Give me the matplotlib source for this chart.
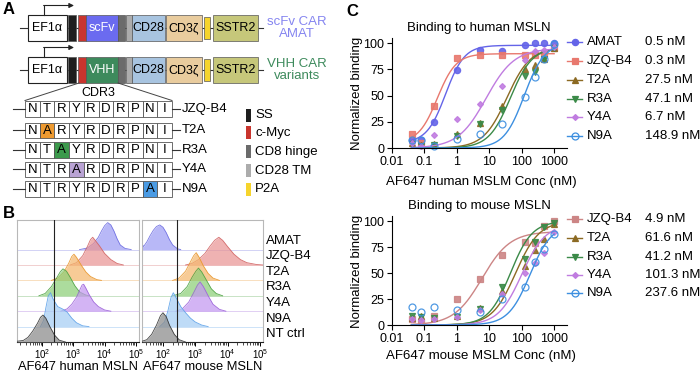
import numpy as np
import matplotlib
matplotlib.use('Agg')
import matplotlib.pyplot as plt
from matplotlib.patches import Rectangle
from matplotlib.ticker import FixedLocator, NullFormatter, LogLocator

plt.rcParams['font.family'] = ['Liberation Sans', 'DejaVu Sans']
plt.rcParams['mathtext.fontset'] = 'custom'
plt.rcParams['mathtext.rm'] = 'Liberation Sans'
plt.rcParams['mathtext.default'] = 'regular'

# ---------------- data ----------------
# Panel A
construct_binders = ['scFv', 'VHH']
construct_binder_colors = ['#6b6bf0', '#3d8a5c']
construct_titles = [('scFv CAR', 'AMAT'), ('VHH CAR', 'variants')]
construct_title_colors = ['#8585f0', '#3d8a5c']
cdr3_names = ['JZQ-B4', 'T2A', 'R3A', 'Y4A', 'N9A']
cdr3_seqs = ['NTRYRDRPNI', 'NARYRDRPNI', 'NTAYRDRPNI', 'NTRARDRPNI', 'NTRYRDRPAI']
cdr3_mut_pos = [None, 1, 2, 3, 8]
cdr3_mut_colors = [None, '#ee9a30', '#3c9a4c', '#b9a3d4', '#4a9be4']
legend_a_names = ['SS', 'c-Myc', 'CD8 hinge', 'CD28 TM', 'P2A']
legend_a_colors = ['#1e1e1e', '#c9352e', '#6b6b6b', '#acacac', '#f6d42c']

# Panel B (log10 fluorescence, relative height in row units)
hist_samples = ['AMAT', 'JZQ-B4', 'T2A', 'R3A', 'Y4A', 'N9A', 'NT ctrl']
hist_fill = ['#9d9df5', '#e99494', '#f5b86e', '#8ccf78', '#c398f0', '#a6cdf5', '#8a8a8a']
hist_edge = ['#6a6ae0', '#d06060', '#e8952a', '#4aa040', '#9a60d8', '#5aa0e8', '#303030']

human_logx = [
    [3.2, 3.45, 3.65, 3.8, 3.9, 4.0, 4.1, 4.2, 4.3, 4.4, 4.5, 4.65, 4.85],
    [2.9, 3.1, 3.3, 3.45, 3.55, 3.62, 3.7, 3.85, 4.0, 4.2, 4.4, 4.6],
    [2.3, 2.5, 2.7, 2.85, 2.95, 3.02, 3.1, 3.25, 3.4, 3.55, 3.75, 3.9],
    [1.9, 2.1, 2.3, 2.45, 2.58, 2.67, 2.78, 2.9, 3.05, 3.2, 3.4, 3.5],
    [2.6, 2.8, 2.95, 3.1, 3.2, 3.28, 3.33, 3.4, 3.5, 3.65, 3.8, 4.0, 4.2],
    [1.95, 2.05, 2.12, 2.2, 2.27, 2.35, 2.5, 2.65, 2.8, 2.95, 3.1, 3.3, 3.5],
    [1.2, 1.4, 1.55, 1.7, 1.85, 1.95, 2.03, 2.12, 2.25, 2.4, 2.55, 2.75],
]
human_h = [
    [0, 0.1, 0.4, 0.8, 1.2, 1.55, 1.75, 1.6, 1.2, 0.7, 0.3, 0.08, 0],
    [0, 0.15, 0.6, 1.2, 1.65, 1.8, 1.6, 1.2, 0.75, 0.35, 0.1, 0],
    [0, 0.15, 0.55, 1.1, 1.55, 1.7, 1.5, 1.0, 0.55, 0.25, 0.05, 0],
    [0, 0.15, 0.6, 1.1, 1.55, 1.75, 1.6, 1.2, 0.65, 0.25, 0.05, 0],
    [0, 0.15, 0.45, 0.9, 1.35, 1.7, 1.75, 1.5, 1.1, 0.6, 0.3, 0.08, 0],
    [0, 0.4, 1.2, 2.0, 2.2, 1.8, 1.3, 1.15, 0.95, 0.55, 0.25, 0.05, 0],
    [0.05, 0.1, 0.3, 0.7, 1.2, 1.6, 1.75, 1.55, 1.0, 0.45, 0.12, 0],
]
mouse_logx = [
    [1.35, 1.4, 1.5, 1.6, 1.7, 1.8, 1.9, 2.0, 2.1, 2.2, 2.3, 2.45, 2.55],
    [2.7, 2.9, 3.1, 3.3, 3.45, 3.6, 3.73, 3.85, 4.0, 4.2, 4.4, 4.6, 4.9, 5.1],
    [2.3, 2.5, 2.7, 2.85, 2.95, 3.03, 3.12, 3.25, 3.4, 3.55, 3.75],
    [2.3, 2.55, 2.75, 2.9, 3.02, 3.1, 3.2, 3.35, 3.5, 3.65, 3.85],
    [2.4, 2.6, 2.8, 2.95, 3.07, 3.15, 3.25, 3.4, 3.55, 3.75, 3.95],
    [1.9, 2.05, 2.15, 2.25, 2.32, 2.4, 2.55, 2.7, 2.85, 3.0, 3.2, 3.4],
    [1.35, 1.5, 1.65, 1.8, 1.92, 2.0, 2.1, 2.2, 2.35, 2.5, 2.7],
]
mouse_h = [
    [0.35, 0.2, 0.5, 0.9, 1.25, 1.5, 1.6, 1.45, 1.1, 0.65, 0.3, 0.05, 0],
    [0, 0.1, 0.35, 0.75, 1.2, 1.6, 1.8, 1.6, 1.2, 0.7, 0.35, 0.15, 0.03, 0],
    [0, 0.15, 0.6, 1.2, 1.6, 1.8, 1.5, 0.95, 0.45, 0.15, 0],
    [0, 0.15, 0.6, 1.2, 1.6, 1.8, 1.55, 1.0, 0.45, 0.15, 0],
    [0, 0.15, 0.6, 1.2, 1.7, 1.9, 1.6, 1.0, 0.45, 0.12, 0],
    [0, 0.3, 1.0, 1.9, 2.2, 1.9, 1.3, 0.9, 0.55, 0.3, 0.1, 0],
    [0.05, 0.15, 0.5, 1.1, 1.7, 1.9, 1.65, 1.1, 0.5, 0.15, 0],
]
gate_human = 240
gate_mouse = 280

# Panel C
conc = [0.04, 0.08, 0.2, 1, 5, 25, 125, 250, 500, 1000]
human_names = ['AMAT', 'JZQ-B4', 'T2A', 'R3A', 'Y4A', 'N9A']
human_kd = ['0.5 nM', '0.3 nM', '27.5 nM', '47.1 nM', '6.7 nM', '148.9 nM']
human_amat = [8, 8, 25, 74, 94, 93, 98, 100, 100, 100]
human_jzq = [13, 5, 40, 86, 89, 89, 89, 89, 90, 95]
human_t2a = [5, 3, 4, 13, 24, 40, 75, 79, 85, 95]
human_r3a = [4, 2, 3, 11, 23, 36, 69, 73, 85, 95]
human_y4a = [5, 2, 12, 28, 42, 59, 84, 93, 94, 96]
human_n9a = [8, 8, 2, 9, 13, 23, 49, 68, 85, 99]
human_ec50 = [0.45, 0.25, 35, 45, 8, 120]
human_hill = [1.5, 1.5, 1.2, 1.3, 1.0, 1.4]
human_top = [98, 90, 96, 96, 95, 100]
human_bottom = [5, 5, 0, 0, 0, 0]

mouse_names = ['JZQ-B4', 'T2A', 'R3A', 'Y4A', 'N9A']
mouse_kd = ['4.9 nM', '61.6 nM', '41.2 nM', '101.3 nM', '237.6 nM']
mouse_jzq = [6, 3, 9, 25, 44, 67, 80, 79, 95, 100]
mouse_t2a = [7, 9, 7, 9, 16, 33, 57, 72, 83, 97]
mouse_r3a = [9, 8, 7, 8, 15, 37, 64, 80, 94, 98]
mouse_y4a = [6, 5, 6, 8, 14, 30, 50, 60, 69, 90]
mouse_n9a = [17, 13, 17, 14, 13, 25, 37, 61, 73, 88]
mouse_ec50 = [6, 65, 45, 100, 180]
mouse_hill = [1.0, 1.2, 1.3, 1.2, 1.3]
mouse_top = [90, 100, 100, 97, 97]
mouse_bottom = [0, 0, 0, 0, 0]

c_colors = {'AMAT': '#6464e8', 'JZQ-B4': '#e8786e', 'T2A': '#8c6a23',
            'R3A': '#3b8a48', 'Y4A': '#c07ce0', 'N9A': '#3d8fe0'}
c_markers = {'AMAT': ('o', 4.5, True), 'JZQ-B4': ('s', 4.5, True), 'T2A': ('^', 4.5, True),
             'R3A': ('v', 4.5, True), 'Y4A': ('D', 3.0, True), 'N9A': ('o', 5.0, False)}

# ---------------- figure ----------------
W, H = 700, 373
fig = plt.figure(figsize=(7, 3.73), dpi=100)
bg = fig.add_axes([0, 0, 1, 1], zorder=0)
bg.set_xlim(0, W); bg.set_ylim(H, 0); bg.axis('off')


def fbox(x0, y0, x1, y1):
    return [x0 / W, 1 - y1 / H, (x1 - x0) / W, (y1 - y0) / H]


# Panel labels
for lab, (x, y) in zip('ABC', [(3, 10), (3, 213), (346, 12)]):
    bg.text(x, y, lab, fontsize=12, fontweight='bold', va='center', ha='left')

# ---- Panel A constructs ----
seg_x = [(68, 76), (78, 86), (86, 118), (118, 125), (126, 132), (132, 165), (166, 202), (204, 210), (213, 258)]
for r, ytop in enumerate([15, 57]):
    h = 26
    yc = ytop + h / 2
    bg.plot([20, 263], [yc, yc], color='#333', lw=0.8, zorder=1)
    bg.add_patch(Rectangle((28, ytop), 39, h, fc='white', ec='#222', lw=0.8, zorder=2))
    bg.text(47.5, yc, 'EF1α', fontsize=9, ha='center', va='center', zorder=3)
    bg.plot([44, 44], [ytop, ytop - 9.5], color='#222', lw=0.8, zorder=2)
    bg.annotate('', xy=(74, ytop - 9.5), xytext=(43.6, ytop - 9.5),
                arrowprops=dict(arrowstyle='-|>', lw=0.8, color='#222', mutation_scale=7,
                                shrinkA=0, shrinkB=0), zorder=2)
    colors = [legend_a_colors[0], legend_a_colors[1], construct_binder_colors[r],
              legend_a_colors[2], legend_a_colors[3], '#a8c4e0', '#e9cc9e', legend_a_colors[4], '#c6c77a']
    for i, ((x0, x1), c) in enumerate(zip(seg_x, colors)):
        yy, hh = (ytop + 2, h - 4) if i == 7 else (ytop, h)
        bg.add_patch(Rectangle((x0, yy), x1 - x0, hh, fc=c, ec='#555', lw=0.5, zorder=2))
    bg.text(102, yc, construct_binders[r], color='white', fontsize=9, ha='center', va='center', zorder=3)
    bg.text(148.5, yc, 'CD28', fontsize=9, ha='center', va='center', zorder=3)
    bg.text(184, yc, 'CD3ζ', fontsize=9, ha='center', va='center', zorder=3)
    bg.text(235.5, yc, 'SSTR2', fontsize=9, ha='center', va='center', zorder=3)
    t1, t2 = construct_titles[r]
    bg.text(297, yc - 6, t1, color=construct_title_colors[r], fontsize=9.5, ha='center', va='center')
    bg.text(297, yc + 6, t2, color=construct_title_colors[r], fontsize=9.5, ha='center', va='center')

# trapezoid to CDR3
bg.plot([79, 25], [83, 100.5], color='#444', lw=0.7)
bg.plot([118, 172], [83, 100.5], color='#444', lw=0.7)
bg.text(98, 92.5, 'CDR3', fontsize=9, ha='center', va='center')

cell_w = 14.7
for k, (name, seq, mp, mc) in enumerate(zip(cdr3_names, cdr3_seqs, cdr3_mut_pos, cdr3_mut_colors)):
    ytop = [101, 122.5, 142, 161.5, 181][k]
    hh = 15.5
    yc = ytop + hh / 2
    bg.plot([13, 25], [yc, yc], color='#333', lw=0.8)
    bg.plot([172, 180], [yc, yc], color='#333', lw=0.8)
    for j, ch in enumerate(seq):
        fc = mc if (mp is not None and j == mp) else 'white'
        bg.add_patch(Rectangle((25 + j * cell_w, ytop), cell_w, hh, fc=fc, ec='#555', lw=0.6))
        bg.text(25 + (j + 0.5) * cell_w, yc + 0.5, ch, fontsize=9.5, ha='center', va='center')
    bg.text(182, yc, name, fontsize=9.5, ha='left', va='center')

for name, c, yc in zip(legend_a_names, legend_a_colors, [115, 132.5, 151.5, 170.5, 189]):
    bg.add_patch(Rectangle((246, yc - 6.5), 5, 13, fc=c, ec='none'))
    bg.text(255, yc + 0.5, name, fontsize=9.5, ha='left', va='center')

# ---- Panel B ----
def hist_panel(box, lx_all, h_all, gate, xmin):
    ax = fig.add_axes(fbox(*box), zorder=2)
    ax.set_xscale('log')
    ax.set_xlim(10 ** xmin, 10 ** 5.1)
    ax.set_ylim(0, 7.92)
    n = len(hist_samples)
    for i in range(n):
        base = n - 1 - i
        ax.axhline(base, color=hist_edge[i], lw=0.6, alpha=0.35, zorder=1)
    for i in range(n):
        base = n - 1 - i
        x = 10 ** np.array(lx_all[i])
        y = base + np.array(h_all[i])
        ax.fill_between(x, base, y, color=hist_fill[i], alpha=0.72, lw=0, zorder=2 + i)
        ax.plot(x, y, color=hist_edge[i], lw=0.6, alpha=0.9, zorder=2 + i)
    ax.axvline(gate, color='#222', lw=0.8, zorder=20)
    for s in ['top', 'left', 'right']:
        ax.spines[s].set_color('#b8b8b8'); ax.spines[s].set_linewidth(0.8)
    ax.spines['bottom'].set_color('#222'); ax.spines['bottom'].set_linewidth(0.8)
    ax.set_yticks([])
    ax.xaxis.set_major_locator(FixedLocator([1e2, 1e3, 1e4, 1e5]))
    ax.xaxis.set_minor_locator(LogLocator(base=10, subs=np.arange(2, 10)))
    ax.xaxis.set_minor_formatter(NullFormatter())
    ax.set_xticklabels(['$10^{2}$', '$10^{3}$', '$10^{4}$', '$10^{5}$'])
    ax.tick_params(axis='x', which='major', length=3, width=0.7, labelsize=7, pad=0.8)
    ax.tick_params(axis='x', which='minor', length=1.8, width=0.5)
    return ax

hist_panel((17, 220, 139, 342), human_logx, human_h, gate_human, 1.2)
hist_panel((142, 220, 263, 342), mouse_logx, mouse_h, gate_mouse, 1.35)
bg.text(78, 366.5, 'AF647 human MSLN', fontsize=9.3, ha='center', va='center')
bg.text(203, 366.5, 'AF647 mouse MSLN', fontsize=9.3, ha='center', va='center')
for i, name in enumerate(hist_samples):
    bg.text(266, 241 + i * 15.5, name, fontsize=9.5, ha='left', va='center')

# ---- Panel C ----
def hill(x, ec50, n, top, bottom):
    return bottom + (top - bottom) / (1 + (ec50 / x) ** n)

def binding_panel(box, names, vals, ec50s, hills, tops, bottoms, colors):
    ax = fig.add_axes(fbox(*box), zorder=2)
    ax.patch.set_alpha(0)
    ax.set_xscale('log')
    ax.set_xlim(0.01, 2500)
    ax.set_ylim(0, 105)
    xf = np.logspace(np.log10(conc[0]), np.log10(conc[-1]), 200)
    for name, v, e, n, t, b in zip(names, vals, ec50s, hills, tops, bottoms):
        c = colors[name]
        ax.plot(xf, hill(xf, e, n, t, b), color=c, lw=1.0, clip_on=False)
        m, ms, filled = c_markers[name]
        ax.plot(conc, v, ls='none', marker=m, ms=ms, mec=c, mfc=c if filled else 'none',
                mew=0.9, alpha=0.9, clip_on=False)
    for s in ['top', 'right']:
        ax.spines[s].set_visible(False)
    for s in ['left', 'bottom']:
        ax.spines[s].set_linewidth(0.8)
    ax.set_xticks([0.01, 0.1, 1, 10, 100, 1000])
    ax.set_xticklabels(['0.01', '0.1', '1', '10', '100', '1000'])
    ax.xaxis.set_minor_locator(FixedLocator([]))
    ax.set_yticks([0, 25, 50, 75, 100])
    ax.tick_params(length=3.5, width=0.8, labelsize=9, pad=2)
    return ax

binding_panel((392, 38, 567, 148), human_names,
              [human_amat, human_jzq, human_t2a, human_r3a, human_y4a, human_n9a],
              human_ec50, human_hill, human_top, human_bottom, c_colors)
mouse_colors = dict(c_colors); mouse_colors['JZQ-B4'] = '#cc8585'
binding_panel((392, 216, 567, 325), mouse_names,
              [mouse_jzq, mouse_t2a, mouse_r3a, mouse_y4a, mouse_n9a],
              mouse_ec50, mouse_hill, mouse_top, mouse_bottom, mouse_colors)

bg.text(479, 28, 'Binding to human MSLN', fontsize=9.5, ha='center', va='center')
bg.text(479, 206, 'Binding to mouse MSLN', fontsize=9.5, ha='center', va='center')
bg.text(481, 182, 'AF647 human MSLM Conc (nM)', fontsize=9.5, ha='center', va='center')
bg.text(481, 356, 'AF647 mouse MSLM Conc (nM)', fontsize=9.5, ha='center', va='center')
bg.text(357, 93, 'Normalized binding', fontsize=9.5, rotation=90, ha='center', va='center')
bg.text(357, 271, 'Normalized binding', fontsize=9.5, rotation=90, ha='center', va='center')

def c_legend(names, kds, ys, colors):
    for name, kd, y in zip(names, kds, ys):
        c = colors[name]
        m, ms, filled = c_markers[name]
        bg.plot([567, 582], [y, y], color=c, lw=1.0)
        bg.plot([574.5], [y], marker=m, ms=ms, mec=c, mfc=c if filled else 'none', mew=0.9, ls='none')
        bg.text(587, y, name, fontsize=9.5, ha='left', va='center')
        bg.text(645, y, kd, fontsize=9.5, ha='left', va='center')

c_legend(human_names, human_kd, [42, 61, 80, 99, 117, 136], c_colors)
c_legend(mouse_names, mouse_kd, [219, 238, 257, 275, 293], mouse_colors)

fig.savefig('out.png', dpi=100)
